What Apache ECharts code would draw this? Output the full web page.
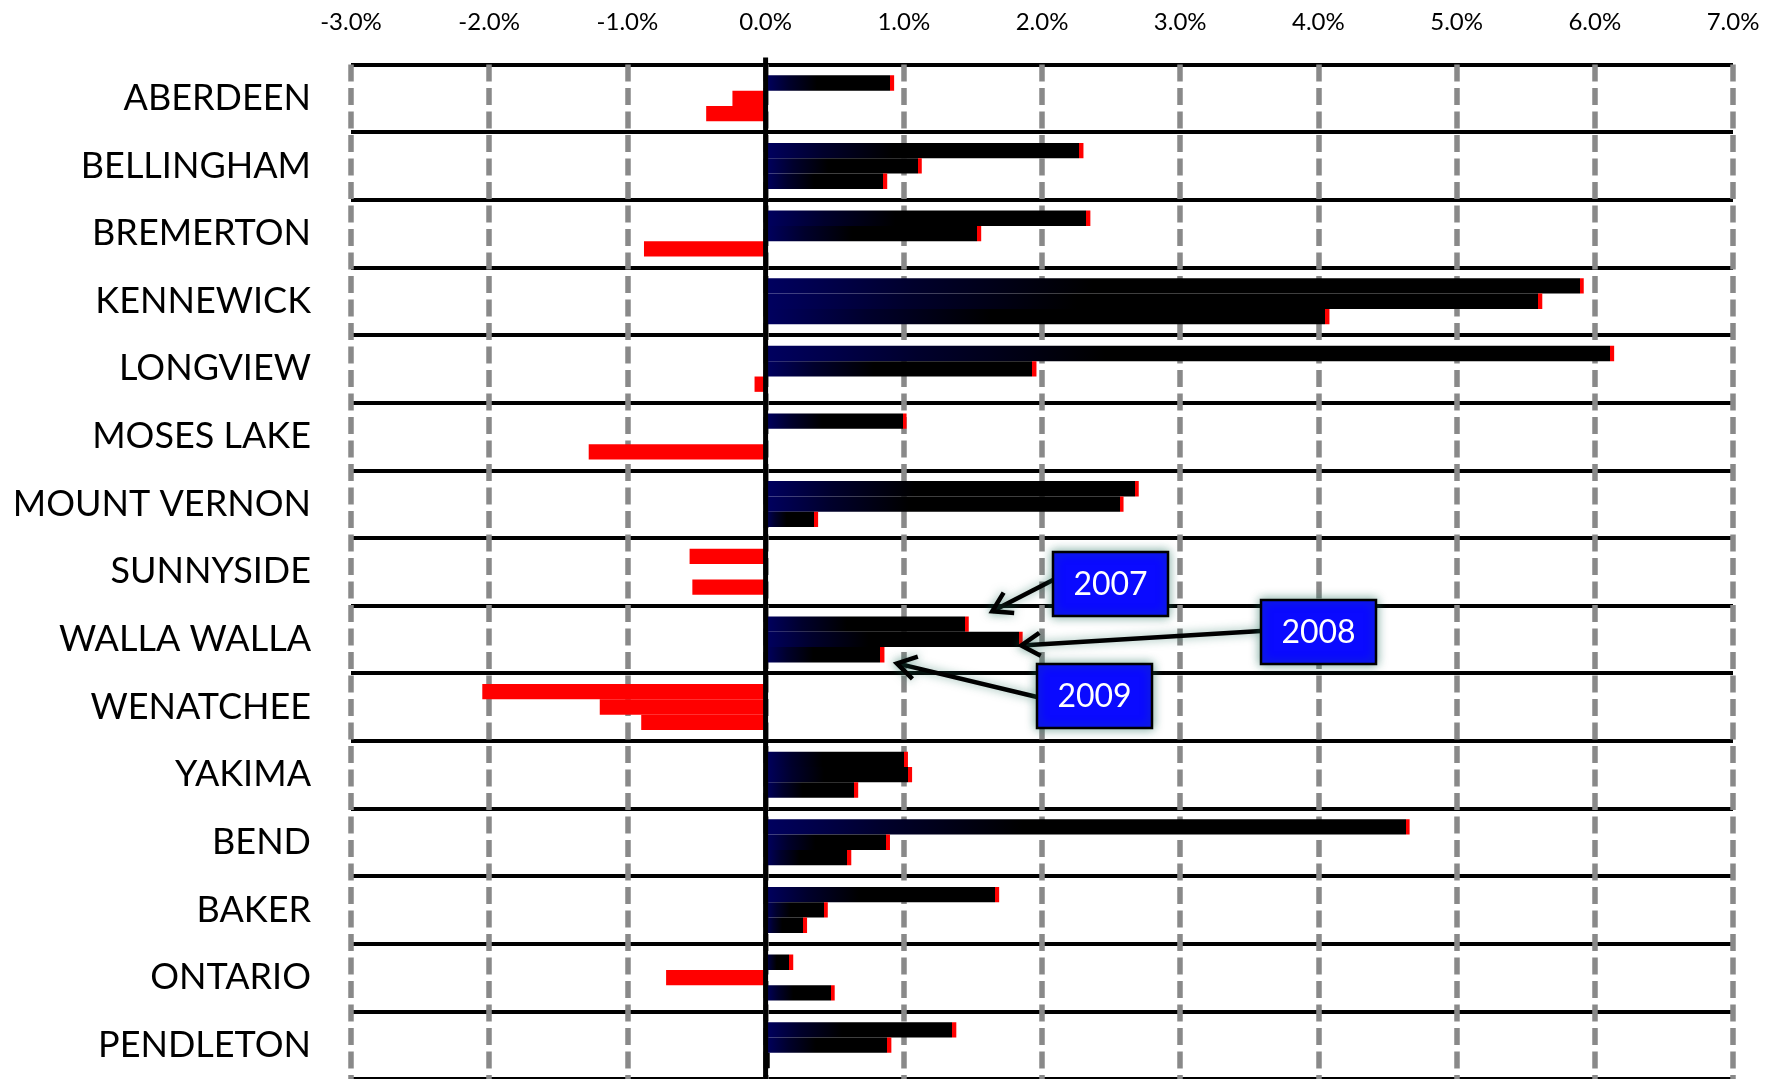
<!DOCTYPE html>
<html>
<head>
<meta charset="utf-8">
<script src="https://cdn.jsdelivr.net/npm/echarts@6/dist/echarts.min.js"></script>
<style>
  html, body { margin: 0; padding: 0; background: #ffffff; }
  #chart { width: 1779px; height: 1079px; }
</style>
</head>
<body>
<div id="chart"></div>
<script>
// Annual employment growth by city, 2007-2009 (percent)
const cities = ['ABERDEEN', 'BELLINGHAM', 'BREMERTON', 'KENNEWICK', 'LONGVIEW', 'MOSES LAKE',
  'MOUNT VERNON', 'SUNNYSIDE', 'WALLA WALLA', 'WENATCHEE', 'YAKIMA', 'BEND', 'BAKER',
  'ONTARIO', 'PENDLETON'];
const years = ['2007', '2008', '2009'];
const growth2007 = [0.93, 2.30, 2.35, 5.92, 6.14, 1.02, 2.70, -0.55, 1.47, -2.05, 1.03, 4.66, 1.69, 0.20, 1.38];
const growth2008 = [-0.24, 1.13, 1.56, 5.62, 1.96, 0, 2.59, 0, 1.86, -1.20, 1.06, 0.90, 0.45, -0.72, 0.91];
const growth2009 = [-0.43, 0.88, -0.88, 4.08, -0.08, -1.28, 0.38, -0.53, 0.86, -0.90, 0.67, 0.62, 0.30, 0.50, 0.03];
const xMin = -3;
const xMax = 7;
const xStep = 1;

// Callout boxes naming each year's bar, pointing into the WALLA WALLA group
const calloutCity = 'WALLA WALLA';
const callouts = [
  { year: '2007', tipValue: 1.64 },
  { year: '2008', tipValue: 1.85 },
  { year: '2009', tipValue: 0.95 }
];

const FONT = 'Lato, "Open Sans", sans-serif';
const GRID = { left: 351, right: 46, top: 64.5, bottom: -1 };

const chart = echarts.init(document.getElementById('chart'), null, { renderer: 'canvas' });

function barSeries(name, values) {
  return {
    name: name,
    type: 'bar',
    data: values,
    barGap: '0%',
    barCategoryGap: '32%',
    itemStyle: { color: '#000000' }
  };
}

chart.setOption({
  animation: false,
  backgroundColor: '#ffffff',
  grid: GRID,
  xAxis: {
    type: 'value',
    position: 'top',
    min: xMin,
    max: xMax,
    interval: xStep,
    axisLine: { show: false },
    axisTick: { show: false },
    axisLabel: {
      margin: 30,
      fontFamily: FONT,
      fontSize: 24,
      color: '#000000',
      formatter: v => v.toFixed(1) + '%'
    },
    splitLine: {
      show: true,
      lineStyle: { color: '#898989', width: 5.5, type: [17, 6.5] }
    }
  },
  yAxis: {
    type: 'category',
    data: cities,
    inverse: true,
    axisLine: { show: false },
    axisTick: { show: false },
    axisLabel: {
      margin: 40,
      fontFamily: FONT,
      fontSize: 36,
      color: '#000000'
    },
    splitLine: {
      show: true,
      lineStyle: { color: '#000000', width: 4 }
    }
  },
  series: [
    barSeries(years[0], growth2007),
    barSeries(years[1], growth2008),
    barSeries(years[2], growth2009)
  ]
});

// Per-bar fills: navy-to-black gradient with a thin red tip for gains, solid red for losses
const pxPerUnit = chart.convertToPixel({ xAxisIndex: 0 }, 1) - chart.convertToPixel({ xAxisIndex: 0 }, 0);
function styledData(values) {
  return values.map(v => {
    if (v < 0) return { value: v, itemStyle: { color: '#ff0000' } };
    const w = v * pxPerUnit;
    if (w < 12) return { value: v, itemStyle: { color: '#000000' } };
    const tip = 1 - 4 / w;
    return {
      value: v,
      itemStyle: {
        color: {
          type: 'linear', x: 0, y: 0, x2: 1, y2: 0,
          colorStops: [
            { offset: 0, color: '#000060' },
            { offset: Math.min(0.18, tip), color: '#00002c' },
            { offset: Math.min(0.4, tip), color: '#000000' },
            { offset: tip, color: '#000000' },
            { offset: tip, color: '#ff0000' },
            { offset: 1, color: '#ff0000' }
          ]
        }
      }
    };
  });
}

chart.setOption({
  series: [
    { data: styledData(growth2007) },
    { data: styledData(growth2008) },
    { data: styledData(growth2009) }
  ]
});

const graphics = [];

// zero reference line, rising a little above the top rule
const zeroX = chart.convertToPixel({ xAxisIndex: 0 }, 0);
graphics.push({
  type: 'line', z: 90,
  shape: { x1: zeroX, y1: GRID.top - 7, x2: zeroX, y2: chart.getHeight() },
  style: { stroke: '#000000', lineWidth: 5 }
});

// Callouts
const bandCenter = chart.convertToPixel({ yAxisIndex: 0 }, calloutCity);
const bandH = (chart.getHeight() - GRID.top - GRID.bottom) / cities.length;
const barH = bandH * 0.68 / 3;
// tip vertical offsets relative to the group centre, and box placements
const tipDy = [-barH * 1.5 - 5, 6, barH * 1.5 + 1];
const boxes = [
  { x: 1053, y: 552, w: 115, h: 64, fromY: 28 },
  { x: 1261, y: 600, w: 115, h: 64, fromY: 31 },
  { x: 1037, y: 664, w: 115, h: 64, fromY: 33 }
];

const shadow = { shadowBlur: 10, shadowColor: 'rgba(30, 110, 90, 0.55)' };
callouts.forEach((c, i) => {
  const b = boxes[i];
  const sx = b.x, sy = b.y + b.fromY;
  const tx = chart.convertToPixel({ xAxisIndex: 0 }, c.tipValue);
  const ty = bandCenter + tipDy[i];
  const ang = Math.atan2(sy - ty, sx - tx);
  const headLen = 22, spread = 0.55;
  const h1 = [tx + headLen * Math.cos(ang + spread), ty + headLen * Math.sin(ang + spread)];
  const h2 = [tx + headLen * Math.cos(ang - spread), ty + headLen * Math.sin(ang - spread)];
  graphics.push({
    type: 'line', z: 100,
    shape: { x1: sx, y1: sy, x2: tx, y2: ty },
    style: Object.assign({ stroke: '#000000', lineWidth: 4.5 }, shadow)
  });
  graphics.push({
    type: 'polyline', z: 100,
    shape: { points: [h1, [tx, ty], h2] },
    style: Object.assign({ stroke: '#000000', lineWidth: 4.5, fill: null, lineJoin: 'miter' }, shadow)
  });
  graphics.push({
    type: 'rect', z: 101,
    shape: { x: b.x, y: b.y, width: b.w, height: b.h },
    style: Object.assign({ fill: '#0a0aff', stroke: '#000000', lineWidth: 2.5 }, shadow)
  });
  graphics.push({
    type: 'text', z: 102,
    x: b.x + b.w / 2, y: b.y + b.h / 2 + 1,
    style: {
      text: c.year, fill: '#ffffff', font: '32px ' + FONT,
      align: 'center', verticalAlign: 'middle'
    }
  });
});
chart.setOption({ graphic: graphics });
</script>
</body>
</html>
